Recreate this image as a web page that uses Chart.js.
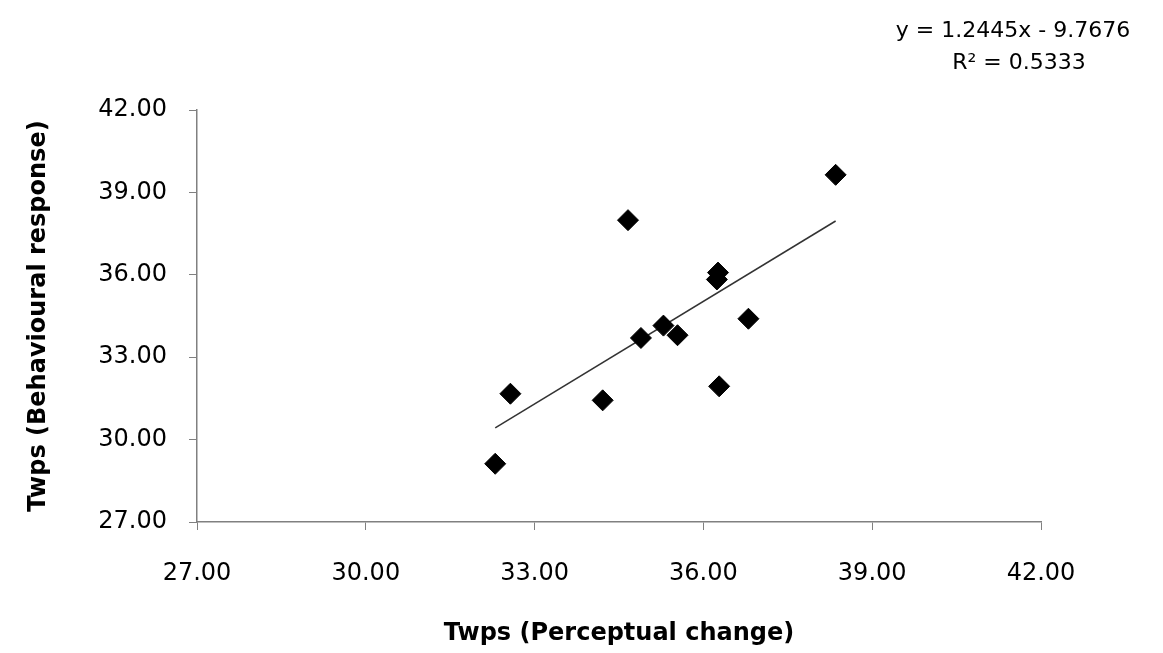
<!DOCTYPE html>
<html>
<head>
<meta charset="utf-8">
<script src="https://cdn.jsdelivr.net/npm/chart.js@4"></script>
<style>
  html, body { margin: 0; padding: 0; background: #fff; }
  #wrap { width: 1163px; height: 653px; }
</style>
</head>
<body>
<div id="wrap"><canvas id="scatter"></canvas></div>
<script>
// values
const perceptual = [38.35, 34.66, 36.26, 36.24, 36.80, 35.29, 34.89, 35.54, 32.57, 34.21, 36.28, 32.30];
const behavioural = [39.64, 37.99, 36.08, 35.83, 34.40, 34.15, 33.70, 33.80, 31.67, 31.43, 31.94, 29.12];
const axisTicks = [27, 30, 33, 36, 39, 42];
const slope = 1.2445;
const intercept = -9.7676;
const rSquared = 0.5333;

const points = perceptual.map((x, i) => ({ x: x, y: behavioural[i] }));
const minX = Math.min(...perceptual);
const maxX = Math.max(...perceptual);
const trend = [
    { x: minX, y: slope * minX + intercept },
    { x: maxX, y: slope * maxX + intercept }
];

const tickFont = { family: 'DejaVu Sans', size: 24 };
const titleFont = { family: 'DejaVu Sans', size: 24, weight: 'bold' };

// equation label in the top right corner
const equationLabel = {
    id: 'equationLabel',
    afterDraw(chart) {
        const c = chart.ctx;
        c.save();
        c.fillStyle = '#000';
        c.font = '22px "DejaVu Sans"';
        c.textAlign = 'center';
        c.textBaseline = 'middle';
        c.fillText('y = ' + slope + 'x - ' + Math.abs(intercept), 1013, 31);
        c.fillText('R² = ' + rSquared, 1019, 63);
        c.restore();
    }
};

const ctx = document.getElementById('scatter').getContext('2d');
const chart = new Chart(ctx, {
    type: 'scatter',
    data: {
        datasets: [
            {
                label: 'Twps',
                data: points,
                pointStyle: 'rectRot',
                pointRadius: 10.5,
                backgroundColor: '#000',
                borderColor: '#000',
                borderWidth: 1
            },
            {
                type: 'line',
                label: 'Linear',
                data: trend,
                borderColor: '#333',
                borderWidth: 1.5,
                pointRadius: 0,
                fill: false
            }
        ]
    },
    options: {
        responsive: true,
        maintainAspectRatio: false,
        animation: false,
        layout: {
            padding: { top: 110, right: 122, left: 0, bottom: 0 }
        },
        scales: {
            x: {
                type: 'linear',
                min: 27,
                max: 42,
                afterBuildTicks: axis => { axis.ticks = axisTicks.map(v => ({ value: v })); },
                afterFit: axis => { axis.height = 131; },
                border: { color: '#808080', width: 1.5 },
                grid: {
                    drawOnChartArea: false,
                    drawTicks: true,
                    tickLength: 8,
                    tickColor: '#808080'
                },
                ticks: {
                    color: '#000',
                    font: tickFont,
                    padding: 29,
                    maxRotation: 0,
                    callback: v => v.toFixed(2)
                },
                title: {
                    display: true,
                    text: 'Twps (Perceptual change)',
                    color: '#000',
                    font: titleFont,
                    padding: { top: 0, bottom: 5 }
                }
            },
            y: {
                type: 'linear',
                min: 27,
                max: 42,
                afterBuildTicks: axis => { axis.ticks = axisTicks.map(v => ({ value: v })); },
                afterFit: axis => { axis.width = 197; },
                border: { color: '#808080', width: 1.5 },
                grid: {
                    drawOnChartArea: false,
                    drawTicks: true,
                    tickLength: 8,
                    tickColor: '#808080'
                },
                ticks: {
                    color: '#000',
                    font: tickFont,
                    padding: 22,
                    callback: v => v.toFixed(2)
                },
                title: {
                    display: true,
                    text: 'Twps (Behavioural response)',
                    color: '#000',
                    font: titleFont,
                    padding: { top: 24, bottom: 0 }
                }
            }
        },
        plugins: {
            legend: { display: false },
            tooltip: { enabled: false }
        }
    },
    plugins: [equationLabel]
});
</script>
</body>
</html>
